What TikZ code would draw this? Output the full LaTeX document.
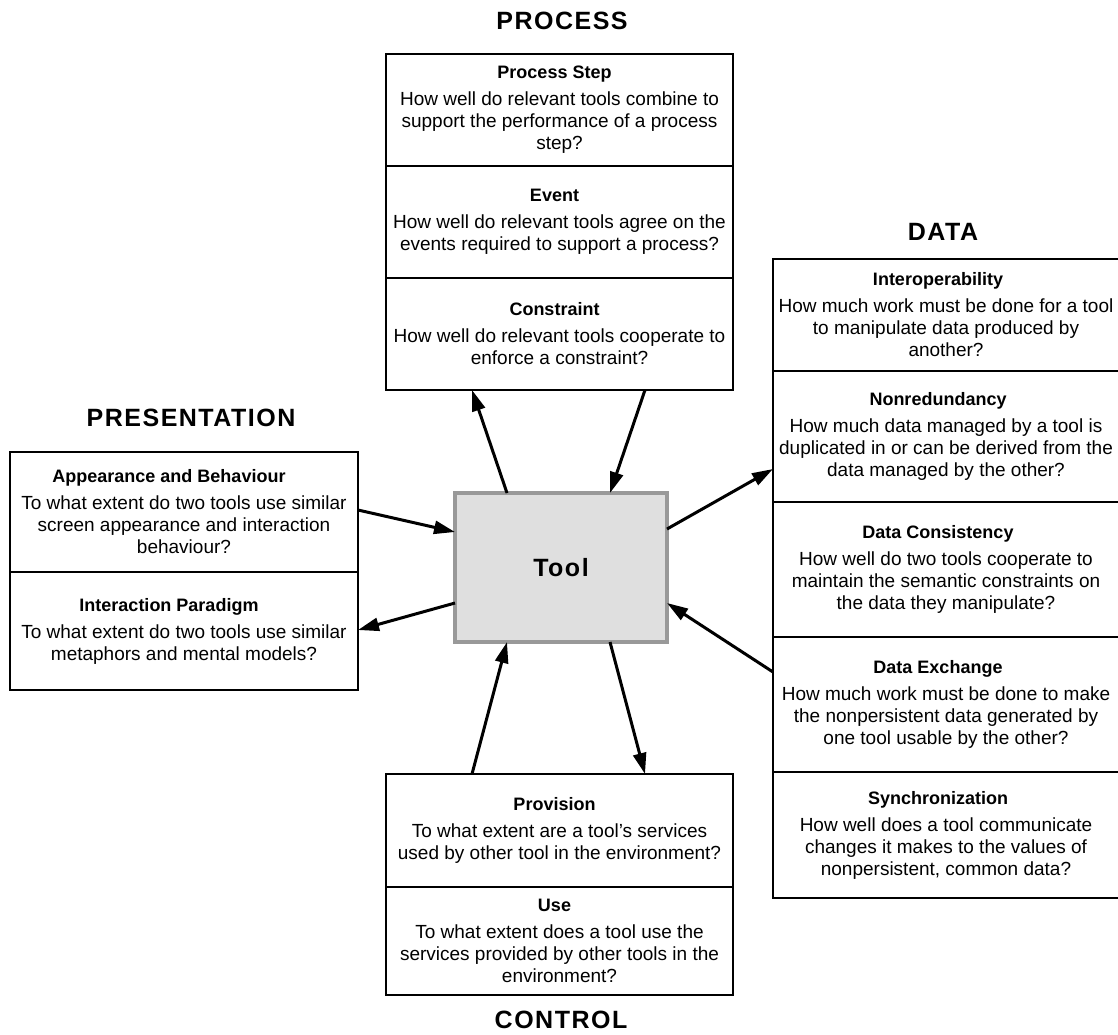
\documentclass[tikz,border=0pt]{standalone}
\usepackage{fontspec}
\setmainfont{Liberation Sans}
\newfontfamily\ttlfont[LetterSpace=6]{Liberation Sans}
\usetikzlibrary{positioning,arrows.meta}
\definecolor{toolfill}{HTML}{DFDFDF}
\definecolor{toolline}{HTML}{999999}
\newcommand{\crit}[3][0pt]{{\fontsize{18}{22}\selectfont\bfseries #2\kern#1}\\[5pt]#3}

\begin{document}
\begin{tikzpicture}[x=1pt, y=-1pt,
  node distance=0pt,
  cell/.style={draw, line width=2.5pt, outer sep=0pt, inner sep=0pt, align=center, font=\fontsize{19}{22}\selectfont},
  pro/.style={cell, minimum width=347pt, minimum height=112pt},
  dat/.style={cell, minimum width=346pt},
  pres/.style={cell, minimum width=348pt},
  ctl/.style={cell, minimum width=347pt},
  tool/.style={draw=toolline, fill=toolfill, line width=3.5pt, outer sep=0pt, minimum width=212pt, minimum height=149pt, font=\ttlfont\fontsize{25}{30}\selectfont\bfseries},
  ttl/.style={font=\ttlfont\fontsize{25}{30}\selectfont\bfseries},
  arr/.style={-{Triangle[length=21pt, width=13pt]}, line width=3pt}
]
\useasboundingbox (0,0) rectangle (1118,1034);

\node[ttl] (proTitle) at (562,21) {PROCESS};
\node[pro] (step) at (559.5,110) {\crit[10pt]{Process Step}{How well do relevant tools combine to\\ support the performance of a process\\ step?}};
\node[pro, below=of step] (event) {\crit[10pt]{Event}{How well do relevant tools agree on the\\ events required to support a process?}};
\node[pro, below=of event] (cons) {\crit[10pt]{Constraint}{How well do relevant tools cooperate to\\ enforce a constraint?}};

\node[ttl] (datTitle) at (943,232) {DATA};
\node[dat, minimum height=112pt] (interop) at (946,315) {\crit[16pt]{Interoperability}{How much work must be done for a tool\\ to manipulate data produced by\\ another?}};
\node[dat, minimum height=131pt, below=of interop] (nonred) {\crit[16pt]{Nonredundancy}{How much data managed by a tool is\\ duplicated in or can be derived from the\\ data managed by the other?}};
\node[dat, minimum height=135pt, below=of nonred] (consist) {\crit[16pt]{Data Consistency}{How well do two tools cooperate to\\ maintain the semantic constraints on\\ the data they manipulate?}};
\node[dat, minimum height=135pt, below=of consist] (exch) {\crit[16pt]{Data Exchange}{How much work must be done to make\\ the nonpersistent data generated by\\ one tool usable by the other?}};
\node[dat, minimum height=126pt, below=of exch] (sync) {\crit[16pt]{Synchronization}{How well does a tool communicate\\ changes it makes to the values of\\ nonpersistent, common data?}};

\node[ttl] (presTitle) at (191,418) {PRESENTATION};
\node[pres, minimum height=120pt] (appear) at (184,512) {\crit[30pt]{Appearance and Behaviour}{To what extent do two tools use similar\\ screen appearance and interaction\\ behaviour?}};
\node[pres, minimum height=118pt, below=of appear] (paradigm) {\crit[30pt]{Interaction Paradigm}{To what extent do two tools use similar\\ metaphors and mental models?}};

\node[ctl, minimum height=113pt] (prov) at (559.5,830.5) {\crit[10pt]{Provision}{To what extent are a tool's services\\ used by other tool in the environment?}};
\node[ctl, minimum height=108pt, below=of prov] (use) {\crit[10pt]{Use}{To what extent does a tool use the\\ services provided by other tools in the\\ environment?}};
\node[ttl] (ctlTitle) at (561,1020) {CONTROL};

\node[tool] (tool) at (561,567.5) {Tool};

\draw[arr] ([xshift=52pt]tool.north west) -- ([xshift=86pt]cons.south west);
\draw[arr] ([xshift=259pt]cons.south west) -- ([xshift=155pt]tool.north west);
\draw[arr] ([yshift=-36pt]tool.north east) -- ([yshift=33pt]nonred.south west);
\draw[arr] ([yshift=-35pt]exch.north west) -- ([yshift=39pt]tool.south east);
\draw[arr] ([yshift=-58pt]appear.north east) -- ([yshift=-39pt]tool.north west);
\draw[arr] ([yshift=39pt]tool.south west) -- ([yshift=-58pt]paradigm.north east);
\draw[arr] ([xshift=86pt]prov.north west) -- ([xshift=52pt]tool.south west);
\draw[arr] ([xshift=155pt]tool.south west) -- ([xshift=259pt]prov.north west);
\end{tikzpicture}
\end{document}
